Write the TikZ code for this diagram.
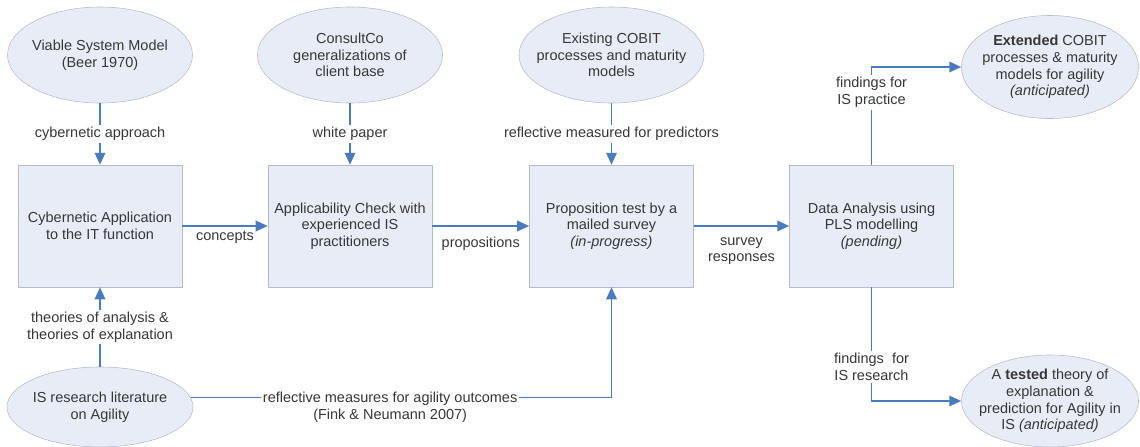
\documentclass[tikz,border=0pt]{standalone}
\usepackage{fontspec}
\setmainfont{Liberation Sans}
\usetikzlibrary{shapes.geometric,arrows.meta}
\definecolor{boxfill}{RGB}{232,236,246}
\definecolor{boxline}{RGB}{180,188,204}
\definecolor{flowblue}{RGB}{74,123,190}
\definecolor{txtgray}{RGB}{55,55,55}

\begin{document}
\begin{tikzpicture}[x=0.025cm,y=-0.025cm,
    font=\fontsize{10.3}{11.8}\selectfont, text=txtgray,
    box/.style={draw=boxline, fill=boxfill, minimum width=4.1cm, minimum height=3.05cm, align=center, inner sep=0pt},
    src/.style={ellipse, draw=boxline, fill=boxfill, align=center, inner xsep=-8pt, inner ysep=-3pt},
    flow/.style={draw=flowblue, line width=1.3pt, -{Triangle[length=8.5pt,width=7.5pt]}},
    lbl/.style={fill=white, align=center, inner sep=1.5pt}]
    \useasboundingbox (0,0) rectangle (1140,447);
    \node[src, minimum width=4.625cm, minimum height=2.4cm] (vsm) at (100,55) {Viable System Model\\(Beer 1970)};
    \node[src, minimum width=4.625cm, minimum height=2.4cm] (consult) at (350,55) {ConsultCo\\generalizations of\\client base};
    \node[src, minimum width=4.625cm, minimum height=2.4cm] (cobit) at (611.5,55) {Existing COBIT\\processes and maturity\\models};
    \node[src, minimum width=4.425cm, minimum height=2.575cm] (ext) at (1050,67) {\textbf{Extended} COBIT\\processes \& maturity\\models for agility\\\textit{(anticipated)}};
    \node[src, minimum width=4.65cm, minimum height=2.0cm] (lit) at (100,407) {IS research literature\\on Agility};
    \node[src, minimum width=4.425cm, minimum height=2.3cm] (tested) at (1050,401) {A \textbf{tested} theory of\\explanation \&\\prediction for Agility in\\IS \textit{(anticipated)}};
    \node[box] (cyb) at (100,226) {Cybernetic Application\\to the IT function};
    \node[box] (appl) at (350,226) {Applicability Check with\\experienced IS\\practitioners};
    \node[box] (prop) at (611.5,226) {Proposition test by a\\mailed survey\\\textit{(in-progress)}};
    \node[box] (data) at (871.5,226) {Data Analysis using\\PLS modelling\\\textit{(pending)}};
    \draw[flow] (vsm) -- node[lbl]{cybernetic approach} (cyb);
    \draw[flow] (consult) -- node[lbl]{white paper} (appl);
    \draw[flow] (cobit) -- node[lbl]{reflective measured for predictors} (prop);
    \draw[flow] (cyb) -- node[below=0pt]{concepts} (appl);
    \draw[flow] (appl) -- node[below=4pt]{propositions} (prop);
    \draw[flow] (prop) -- node[below=4pt, align=center]{survey\\responses} (data);
    \draw[flow] (data.north) |- node[lbl, pos=0.37]{findings for\\IS practice} (ext.west);
    \draw[flow] (data.south) |- node[lbl, pos=0.35]{findings\ \ for\\IS research} (tested.west);
    \draw[flow] (lit) -- node[lbl]{theories of analysis \&\\theories of explanation} (cyb);
    \draw[flow] (lit.6) -| node[lbl, pos=0.237, anchor=north, yshift=6pt]{reflective measures for agility outcomes\\(Fink \& Neumann 2007)} (prop.south);
\end{tikzpicture}
\end{document}
